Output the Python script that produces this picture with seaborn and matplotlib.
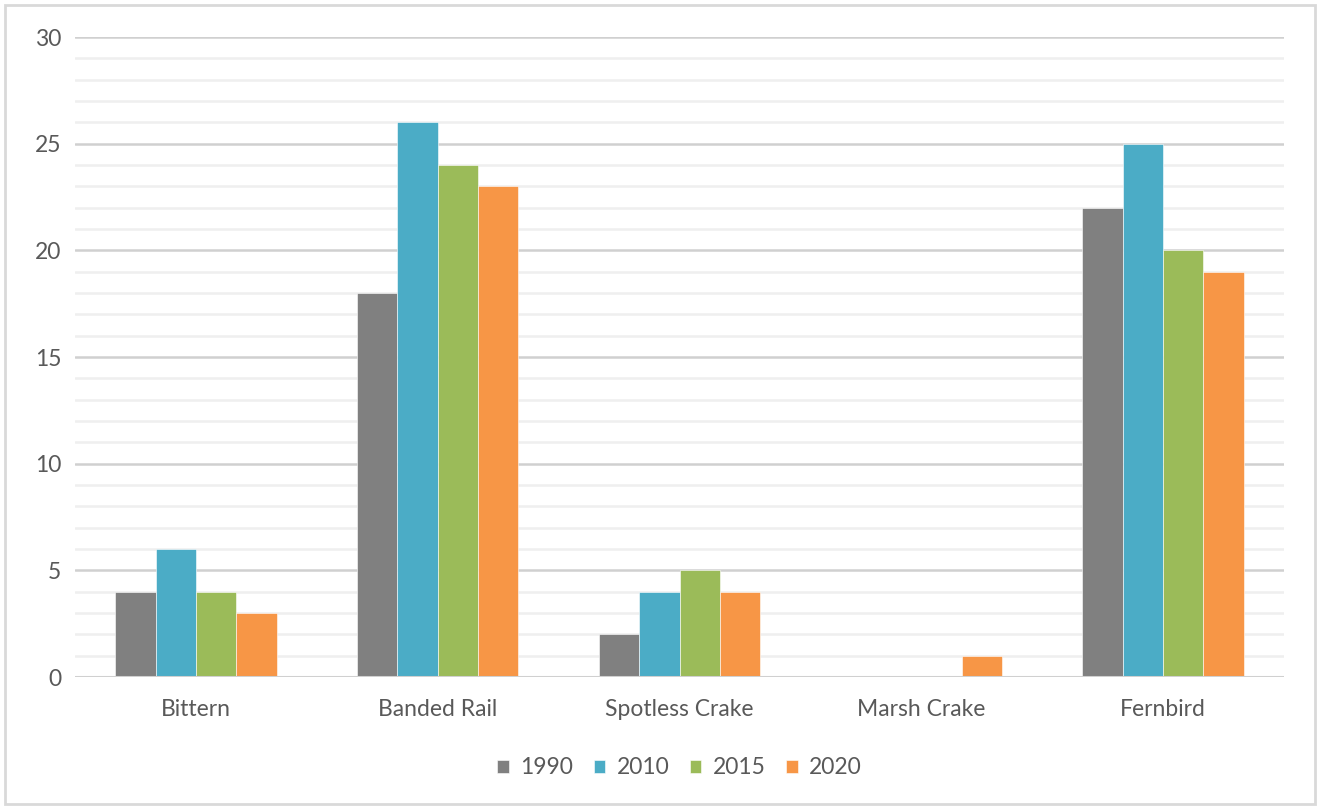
import pandas as pd
import seaborn as sns
import matplotlib.pyplot as plt
from matplotlib.patches import Rectangle
from matplotlib.ticker import MultipleLocator

# Werte
species = ["Bittern", "Banded Rail", "Spotless Crake", "Marsh Crake", "Fernbird"]
years = ["1990", "2010", "2015", "2020"]
counts_1990 = [4, 18, 2, 0, 22]
counts_2010 = [6, 26, 4, 0, 25]
counts_2015 = [4, 24, 5, 0, 20]
counts_2020 = [3, 23, 4, 1, 19]
colors = ["#808080", "#4BACC6", "#9BBB59", "#F79646"]

df = pd.DataFrame({
    "species": species * 4,
    "year": [y for y in years for _ in species],
    "count": counts_1990 + counts_2010 + counts_2015 + counts_2020,
})

sns.set_style("white")
plt.rcParams["font.family"] = ["Lato", "DejaVu Sans"]

fig = plt.figure(figsize=(13.2, 8.07), dpi=100)
ax = fig.add_axes([75 / 1320, 1 - 677 / 807, 1209 / 1320, 640 / 807])

sns.barplot(data=df, x="species", y="count", hue="year", palette=colors,
            width=0.667, saturation=1, ax=ax, zorder=3,
            edgecolor="white", linewidth=0.4)

ax.set_xlim(-0.5, 4.5)
ax.set_ylim(0, 30)
ax.yaxis.set_major_locator(MultipleLocator(5))
ax.yaxis.set_minor_locator(MultipleLocator(1))
ax.grid(axis="y", which="major", color="#d0d0d0", linewidth=1.8, zorder=0)
ax.grid(axis="y", which="minor", color="#efefef", linewidth=1.8, zorder=0)
ax.axhline(0, color="#d0d0d0", linewidth=2.2, zorder=4)
for s in ax.spines.values():
    s.set_visible(False)
ax.set_xlabel("")
ax.set_ylabel("")
ax.tick_params(axis="both", which="both", length=0, labelsize=16.5, colors="#595959")
ax.tick_params(axis="x", pad=16)
ax.tick_params(axis="y", pad=10)

leg = ax.legend(loc="center", bbox_to_anchor=(0.5, -0.142), ncol=4, frameon=False,
                fontsize=16.5, handlelength=0.5, handleheight=0.5, handletextpad=0.5,
                columnspacing=0.9)
for t in leg.get_texts():
    t.set_color("#595959")

# Rahmen um das ganze Bild
fig.patches.append(Rectangle((5 / 1320, 3 / 807), 1310 / 1320, 799 / 807,
                             transform=fig.transFigure, fill=False,
                             edgecolor="#d9d9d9", linewidth=2))

fig.savefig("out.png", dpi=100)
